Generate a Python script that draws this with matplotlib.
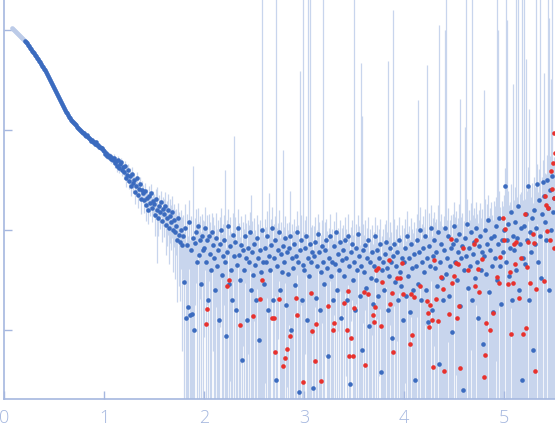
import numpy as np
import matplotlib.pyplot as plt
from matplotlib.ticker import NullLocator

# points excluded from the fit (drawn light)
q_excl = [0.08, 0.09, 0.10, 0.11, 0.12, 0.13, 0.14, 0.15, 0.16, 0.17, 0.18, 0.19, 0.20]
log_i_excl = [0.02, 0.01, 0.00, -0.01, -0.02, -0.03, -0.04, -0.05, -0.06, -0.07, -0.08, -0.09, -0.10]

# smooth low-q part
q_smooth = [0.21, 0.22, 0.23, 0.24, 0.25, 0.26, 0.27, 0.28, 0.29,
            0.30, 0.31, 0.32, 0.33, 0.34, 0.35, 0.36, 0.37, 0.38, 0.39,
            0.40, 0.41, 0.42, 0.43, 0.44, 0.45, 0.46, 0.47, 0.48, 0.49,
            0.50, 0.51, 0.52, 0.53, 0.54, 0.55, 0.56, 0.57, 0.58, 0.59,
            0.60, 0.61, 0.62, 0.63, 0.64, 0.65, 0.66, 0.67, 0.68, 0.69,
            0.70, 0.71, 0.72, 0.73, 0.74, 0.75, 0.76, 0.77, 0.78, 0.79,
            0.80, 0.81, 0.82, 0.83, 0.84, 0.85, 0.86, 0.87, 0.88, 0.89,
            0.90, 0.91, 0.92, 0.93, 0.94, 0.95, 0.96, 0.97, 0.98, 0.99]
log_i_smooth = [-0.11, -0.12, -0.13, -0.15, -0.16, -0.18, -0.19, -0.21, -0.22,
                -0.23, -0.25, -0.26, -0.28, -0.29, -0.31, -0.32, -0.34, -0.36, -0.37,
                -0.39, -0.40, -0.42, -0.44, -0.46, -0.48, -0.50, -0.52, -0.54, -0.56,
                -0.58, -0.60, -0.62, -0.64, -0.66, -0.68, -0.70, -0.72, -0.74, -0.76,
                -0.78, -0.80, -0.82, -0.83, -0.85, -0.87, -0.88, -0.90, -0.91, -0.92,
                -0.93, -0.94, -0.95, -0.97, -0.98, -0.99, -1.00, -1.01, -1.02, -1.03,
                -1.03, -1.05, -1.06, -1.05, -1.07, -1.08, -1.09, -1.11, -1.10, -1.12,
                -1.12, -1.14, -1.12, -1.15, -1.15, -1.17, -1.17, -1.18, -1.18, -1.20]
log_err_smooth = [-2.1, -2.1, -2.1, -2.1, -2.2, -2.2, -2.2, -2.2, -2.2,
                  -2.2, -2.3, -2.3, -2.3, -2.3, -2.3, -2.3, -2.4, -2.4, -2.4,
                  -2.4, -2.4, -2.4, -2.5, -2.5, -2.5, -2.5, -2.5, -2.5, -2.6,
                  -2.6, -2.6, -2.6, -2.6, -2.6, -2.6, -2.6, -2.6, -2.6, -2.6,
                  -2.7, -2.7, -2.7, -2.7, -2.7, -2.7, -2.7, -2.7, -2.7, -2.7,
                  -2.7, -2.7, -2.7, -2.7, -2.7, -2.7, -2.7, -2.7, -2.7, -2.7,
                  -2.6, -2.6, -2.6, -2.6, -2.6, -2.6, -2.6, -2.6, -2.6, -2.6,
                  -2.5, -2.5, -2.5, -2.5, -2.5, -2.5, -2.5, -2.5, -2.5, -2.5]

# noisy high-q part
q_noisy = [
    1.00, 1.01, 1.02, 1.03, 1.04, 1.05, 1.06, 1.07, 1.08, 1.09,
    1.10, 1.11, 1.12, 1.13, 1.14, 1.15, 1.16, 1.17, 1.18, 1.19,
    1.20, 1.21, 1.22, 1.23, 1.24, 1.25, 1.26, 1.27, 1.28, 1.29,
    1.30, 1.31, 1.32, 1.33, 1.34, 1.35, 1.36, 1.37, 1.38, 1.39,
    1.40, 1.41, 1.42, 1.43, 1.44, 1.45, 1.46, 1.47, 1.48, 1.49,
    1.50, 1.51, 1.52, 1.53, 1.54, 1.55, 1.56, 1.57, 1.58, 1.59,
    1.60, 1.61, 1.62, 1.63, 1.64, 1.65, 1.66, 1.67, 1.68, 1.69,
    1.70, 1.71, 1.72, 1.73, 1.74, 1.75, 1.76, 1.77, 1.78, 1.79,
    1.80, 1.81, 1.82, 1.83, 1.84, 1.85, 1.86, 1.87, 1.88, 1.89,
    1.90, 1.91, 1.92, 1.93, 1.94, 1.95, 1.96, 1.97, 1.98, 1.99,
    2.00, 2.01, 2.02, 2.03, 2.04, 2.05, 2.06, 2.07, 2.08, 2.09,
    2.10, 2.11, 2.12, 2.13, 2.14, 2.15, 2.16, 2.17, 2.18, 2.19,
    2.20, 2.21, 2.22, 2.23, 2.24, 2.25, 2.26, 2.27, 2.28, 2.29,
    2.30, 2.31, 2.32, 2.33, 2.34, 2.35, 2.36, 2.37, 2.38, 2.39,
    2.40, 2.41, 2.42, 2.43, 2.44, 2.45, 2.46, 2.47, 2.48, 2.49,
    2.50, 2.51, 2.52, 2.53, 2.54, 2.55, 2.56, 2.57, 2.58, 2.59,
    2.60, 2.61, 2.62, 2.63, 2.64, 2.65, 2.66, 2.67, 2.68, 2.69,
    2.70, 2.71, 2.72, 2.73, 2.74, 2.75, 2.76, 2.77, 2.78, 2.79,
    2.80, 2.81, 2.82, 2.83, 2.84, 2.85, 2.86, 2.87, 2.88, 2.89,
    2.90, 2.91, 2.92, 2.93, 2.94, 2.95, 2.96, 2.97, 2.98, 2.99,
    3.00, 3.01, 3.02, 3.03, 3.04, 3.05, 3.06, 3.07, 3.08, 3.09,
    3.10, 3.11, 3.12, 3.13, 3.14, 3.15, 3.16, 3.17, 3.18, 3.19,
    3.20, 3.21, 3.22, 3.23, 3.24, 3.25, 3.26, 3.27, 3.28, 3.29,
    3.30, 3.31, 3.32, 3.33, 3.34, 3.35, 3.36, 3.37, 3.38, 3.39,
    3.40, 3.41, 3.42, 3.43, 3.44, 3.45, 3.46, 3.47, 3.48, 3.49,
    3.50, 3.51, 3.52, 3.53, 3.54, 3.55, 3.56, 3.57, 3.58, 3.59,
    3.60, 3.61, 3.62, 3.63, 3.64, 3.65, 3.66, 3.67, 3.68, 3.69,
    3.70, 3.71, 3.72, 3.73, 3.74, 3.75, 3.76, 3.77, 3.78, 3.79,
    3.80, 3.81, 3.82, 3.83, 3.84, 3.85, 3.86, 3.87, 3.88, 3.89,
    3.90, 3.91, 3.92, 3.93, 3.94, 3.95, 3.96, 3.97, 3.98, 3.99,
    4.00, 4.01, 4.02, 4.03, 4.04, 4.05, 4.06, 4.07, 4.08, 4.09,
    4.10, 4.11, 4.12, 4.13, 4.14, 4.15, 4.16, 4.17, 4.18, 4.19,
    4.20, 4.21, 4.22, 4.23, 4.24, 4.25, 4.26, 4.27, 4.28, 4.29,
    4.30, 4.31, 4.32, 4.33, 4.34, 4.35, 4.36, 4.37, 4.38, 4.39,
    4.40, 4.41, 4.42, 4.43, 4.44, 4.45, 4.46, 4.47, 4.48, 4.49,
    4.50, 4.51, 4.52, 4.53, 4.54, 4.55, 4.56, 4.57, 4.58, 4.59,
    4.60, 4.61, 4.62, 4.63, 4.64, 4.65, 4.66, 4.67, 4.68, 4.69,
    4.70, 4.71, 4.72, 4.73, 4.74, 4.75, 4.76, 4.77, 4.78, 4.79,
    4.80, 4.81, 4.82, 4.83, 4.84, 4.85, 4.86, 4.87, 4.88, 4.89,
    4.90, 4.91, 4.92, 4.93, 4.94, 4.95, 4.96, 4.97, 4.98, 4.99,
    5.00, 5.01, 5.02, 5.03, 5.04, 5.05, 5.06, 5.07, 5.08, 5.09,
    5.10, 5.11, 5.12, 5.13, 5.14, 5.15, 5.16, 5.17, 5.18, 5.19,
    5.20, 5.21, 5.22, 5.23, 5.24, 5.25, 5.26, 5.27, 5.28, 5.29,
    5.30, 5.31, 5.32, 5.33, 5.34, 5.35, 5.36, 5.37, 5.38, 5.39,
    5.40, 5.41, 5.42, 5.43, 5.44, 5.45, 5.46, 5.47, 5.48, 5.49,
    5.50]
log_i_noisy = [
    -1.21, -1.24, -1.23, -1.26, -1.25, -1.27, -1.26, -1.29, -1.28, -1.30,
    -1.28, -1.33, -1.31, -1.36, -1.30, -1.38, -1.34, -1.32, -1.40, -1.37,
    -1.42, -1.36, -1.48, -1.45, -1.40, -1.51, -1.46, -1.56, -1.44, -1.53,
    -1.50, -1.62, -1.56, -1.48, -1.65, -1.59, -1.54, -1.69, -1.60, -1.63,
    -1.70, -1.61, -1.75, -1.68, -1.80, -1.66, -1.73, -1.63, -1.78, -1.71,
    -1.74, -1.85, -1.69, -1.80, -1.88, -1.76, -1.82, -1.72, -1.91, -1.79,
    -1.84, -1.76, -1.95, -1.88, -1.80, -1.98, -1.86, -1.92, -1.82, -2.00,
    -1.90, -2.02, -1.96, -2.10, -1.88, -2.05, -2.12, -2.00, -2.15, -2.06,
    -2.52, -1.98, -2.88, -2.15, -2.77, -1.92, -2.85, -2.20, -2.84, -2.08,
    -3.00, -2.13, -2.02, -2.32, -1.96, -2.25, -2.10, -2.54, -2.06, -2.20,
    -2.18, -1.98, -2.32, -2.10, -2.70, -2.06, -2.24, -2.40, -2.02, -2.15,
    -2.28, -2.60, -2.08, -2.36, -2.20, -2.90, -2.14, -2.00, -2.45, -2.26,
    -2.10, -2.32, -3.06, -2.22, -1.96, -2.54, -2.16, -2.40, -2.70, -2.05,
    -2.26, -2.12, -2.80, -2.35, -1.98, -2.25, -2.50, -2.15, -3.30, -2.20,
    -2.40, -2.06, -2.28, -2.90, -2.18, -2.32, -2.02, -2.60, -2.22, -2.45,
    -2.14, -2.35, -2.70, -2.08, -2.28, -3.10, -2.20, -2.42, -2.00, -2.32,
    -2.54, -2.18, -2.32, -2.06, -2.80, -2.26, -2.40, -2.15, -1.98, -2.70,
    -2.28, -2.10, -3.50, -2.36, -2.20, -2.02, -2.60, -2.24, -2.42, -2.16,
    -2.32, -2.08, -2.75, -2.22, -2.44, -2.18, -2.06, -3.00, -2.28, -2.38,
    -2.14, -2.55, -2.26, -2.02, -2.32, -3.62, -2.20, -2.10, -2.70, -2.35,
    -2.40, -2.18, -2.06, -2.90, -2.28, -2.46, -2.14, -2.32, -2.22, -3.58,
    -2.26, -2.12, -2.68, -2.36, -2.04, -2.22, -2.80, -2.42, -2.16, -2.32,
    -2.54, -2.20, -2.10, -2.38, -3.26, -2.28, -2.06, -2.46, -2.32, -2.70,
    -2.16, -2.34, -2.02, -2.60, -2.24, -2.40, -2.12, -2.88, -2.30, -2.20,
    -2.46, -2.10, -2.28, -2.70, -2.06, -2.36, -3.54, -2.22, -2.14, -2.50,
    -2.32, -2.80, -2.18, -2.40, -2.04, -2.26, -2.66, -2.36, -3.20, -2.20,
    -2.42, -2.15, -2.58, -2.28, -2.10, -2.96, -2.32, -2.48, -2.22, -2.74,
    -2.36, -2.06, -2.50, -2.20, -2.66, -2.28, -2.14, -3.42, -2.40, -2.32,
    -2.60, -2.24, -2.12, -2.38, -2.80, -2.46, -2.18, -2.32, -3.08, -2.26,
    -2.14, -2.52, -2.36, -2.22, -2.70, -2.10, -2.42, -2.56, -2.28, -2.90,
    -2.32, -2.18, -2.66, -2.06, -2.46, -2.28, -2.82, -2.14, -2.38, -2.60,
    -2.24, -3.50, -2.36, -2.10, -2.54, -2.22, -2.00, -2.70, -2.32, -2.18,
    -2.42, -2.06, -2.60, -2.28, -2.92, -2.16, -2.36, -1.98, -2.80, -2.26,
    -2.10, -2.38, -2.22, -2.56, -2.02, -3.34, -2.32, -2.14, -2.48, -2.70,
    -2.20, -1.98, -2.44, -2.28, -2.06, -2.66, -2.36, -2.18, -3.02, -2.14,
    -1.96, -2.32, -2.10, -2.50, -2.22, -2.04, -2.76, -2.28, -2.16, -3.60,
    -2.40, -2.08, -2.26, -1.94, -2.58, -2.18, -2.36, -2.02, -2.70, -2.24,
    -2.12, -2.48, -1.98, -2.32, -2.88, -2.16, -2.06, -2.40, -2.22, -3.14,
    -2.26, -2.00, -2.44, -2.14, -1.90, -2.62, -2.20, -2.08, -2.36, -2.82,
    -2.06, -2.28, -1.96, -2.50, -2.14, -1.88, -2.36, -2.74, -2.10, -2.22,
    -2.00, -1.56, -2.32, -2.10, -1.94, -2.46, -2.18, -1.82, -2.70, -2.06,
    -2.20, -1.92, -2.40, -2.08, -1.76, -2.60, -2.14, -1.98, -3.50, -2.28,
    -1.96, -2.34, -1.84, -2.10, -1.56, -2.70, -2.02, -2.22, -1.88, -3.20,
    -1.80, -2.14, -1.98, -1.54, -2.32, -1.70, -2.06, -2.48, -1.84, -1.52,
    -1.66, -1.92, -2.10, -1.50, -1.78, -2.60, -1.60, -2.00, -1.46, -1.82,
    -1.68]
log_err_noisy = [
    -2.42, -2.38, -2.45, -2.40, -2.36, -2.44, -2.40, -2.37, -2.43, -2.39,
    -2.32, -2.28, -2.35, -2.26, -2.30, -2.33, -2.27, -2.31, -2.29, -2.34,
    -2.24, -2.28, -2.20, -2.26, -2.22, -2.27, -2.18, -2.25, -2.23, -2.21,
    -2.30, -2.25, -2.28, -2.32, -2.24, -2.27, -2.29, -2.22, -2.26, -2.31,
    -2.28, -2.33, -2.26, -2.30, -2.35, -2.27, -2.31, -2.25, -2.34, -2.29,
    -2.32, -2.27, -2.30, -1.95, -2.34, -2.28, -2.31, -2.26, -2.33, -2.29,
    -2.22, -2.18, -2.25, -2.20, -2.16, -2.23, -2.19, -2.24, -2.17, -2.21,
    -2.24, -2.20, -2.27, -2.22, -2.26, -2.21, -2.25, -2.23, -2.19, -2.26,
    -2.18, -2.12, -2.20, -2.14, -2.16, -2.10, -2.19, -2.13, -2.17, -1.45,
    -2.20, -2.25, -2.18, -2.22, -2.26, -2.19, -2.23, -2.17, -2.24, -2.21,
    -2.24, -2.19, -2.26, -2.21, -2.18, -2.25, -2.20, -2.23, -2.27, -2.19,
    -2.22, -2.26, -2.18, -2.24, -2.20, -2.28, -2.21, -2.17, -2.25, -2.23,
    -2.21, -1.45, -2.24, -2.19, -2.27, -2.22, -2.18, -2.25, -2.20, -2.23,
    -1.09, -2.22, -2.26, -2.19, -2.24, -2.21, -2.27, -2.18, -2.23, -2.25,
    -2.20, -2.24, -2.18, -2.26, -2.22, -2.19, -2.25, -1.70, -2.21, -2.23,
    -2.22, -2.26, -2.19, -2.24, -2.20, -2.27, -2.21, -2.18, 0.50, -2.23,
    -2.25, -2.20, -2.23, -2.18, -2.26, -1.75, -2.22, -2.24, -2.19, -2.21,
    -2.20, -2.24, 0.50, -2.22, -2.26, -2.19, -2.23, -2.21, -2.25, -1.25,
    -2.22, -2.27, -2.19, -2.24, -2.20, -2.26, -1.80, -2.23, -2.21, -2.25,
    -2.24, -2.20, -2.26, -2.22, -2.19, -2.25, -0.42, -2.21, -2.23, 0.50,
    -2.26, -2.22, -2.28, -2.24, 0.50, -2.27, 0.50, -2.23, -2.29, -2.25,
    -2.27, -2.23, -2.30, -2.25, -2.28, -2.22, -2.26, -2.29, -2.24, 0.50,
    -2.28, -2.24, -2.30, -2.26, -2.22, -2.29, -2.25, -2.31, -2.27, -2.23,
    -2.26, -2.30, -2.24, -2.28, -2.32, -2.25, -2.29, -2.23, -2.27, -2.31,
    -2.29, -2.25, -2.31, -2.27, -2.23, -2.30, -2.26, -2.32, -2.28, -2.24,
    0.50, -2.28, -2.32, -2.26, -2.30, -2.27, -2.31, -0.33, -0.86, -2.29,
    -2.30, -2.26, -2.32, -2.28, -2.25, -2.31, -2.27, -2.33, -2.29, -2.26,
    -2.28, -2.32, -2.26, -2.30, -2.27, -2.31, -2.25, -2.29, -2.33, -2.27,
    -2.29, -2.25, -2.31, -2.27, -0.31, -2.30, -2.26, -2.32, -2.28, 0.20,
    -2.26, -2.30, -2.24, -2.28, -2.31, -2.25, -2.29, -2.27, -2.23, -2.30,
    -2.24, -2.20, -2.26, -2.18, -2.22, -2.25, -2.19, -2.23, -2.21, -2.17,
    -2.20, -2.16, -2.22, -2.18, -0.71, -2.19, -2.15, -2.21, -2.17, -2.14,
    -2.16, -2.12, -2.18, -0.36, -2.14, -2.10, -2.17, -2.13, -2.15, -2.11,
    -2.14, -2.10, -2.16, -2.12, -2.08, 0.05, -2.13, -2.15, -2.11, -2.09,
    -2.12, 0.00, 0.50, -2.14, -2.10, -2.16, -2.08, -2.13, -2.11, -2.15,
    -2.10, -2.06, -2.12, -2.08, -2.14, -2.05, -0.69, -2.09, -2.11, -2.07,
    -2.08, -1.00, 0.50, -2.06, -2.10, -2.04, -2.09, -2.05, 0.50, -2.07,
    -2.04, -2.00, -2.06, -2.02, -1.98, -2.05, -2.01, -2.03, -1.99, -2.04,
    -0.61, -1.98, -2.02, -1.96, -2.00, -1.94, -1.99, -1.97, -2.01, -1.95,
    -1.96, -1.92, -1.98, 0.50, 0.00, -1.94, -1.90, -1.97, -1.93, -1.95,
    -1.90, -1.86, 0.50, 0.10, -1.88, -1.84, -1.91, -1.87, -1.85, -0.55,
    -1.86, -1.82, 0.50, -1.88, 0.50, -1.84, -1.80, -1.87, 0.50, -1.83,
    0.50, -1.80, -0.30, -1.78, -1.82, -0.80, -1.76, -1.81, -1.79, -1.75,
    -1.74, -1.70, 0.50, -1.76, -1.72, -1.68, 0.50, -1.73, -1.71, -1.69,
    -0.46, -1.60, -1.55, -1.62, 0.50, 0.12, -1.52, -0.50, 0.50, -1.50,
    -1.48]

# points drawn in red
q_red = [2.02, 2.03, 2.23, 2.25, 2.36, 2.49, 2.56, 2.58, 2.68, 2.70,
         2.71, 2.75, 2.79, 2.81, 2.83, 2.86, 2.92, 2.93, 2.99, 3.07,
         3.08, 3.11, 3.12, 3.17, 3.24, 3.29, 3.30, 3.40, 3.43, 3.44,
         3.45, 3.47, 3.49, 3.50, 3.60, 3.61, 3.64, 3.69, 3.70, 3.71,
         3.72, 3.74, 3.77, 3.78, 3.85, 3.86, 3.88, 3.89, 3.93, 3.96,
         3.98, 3.99, 4.06, 4.07, 4.08, 4.10, 4.16, 4.23, 4.24, 4.25,
         4.26, 4.28, 4.29, 4.30, 4.32, 4.34, 4.37, 4.39, 4.40, 4.45,
         4.47, 4.48, 4.50, 4.52, 4.53, 4.54, 4.55, 4.56, 4.59, 4.64,
         4.70, 4.71, 4.72, 4.74, 4.75, 4.78, 4.80, 4.81, 4.82, 4.86,
         4.89, 4.93, 4.95, 4.96, 4.99, 5.00, 5.01, 5.04, 5.06, 5.07,
         5.09, 5.10, 5.11, 5.12, 5.15, 5.17, 5.19, 5.21, 5.22, 5.23,
         5.24, 5.26, 5.29, 5.30, 5.31, 5.32, 5.40, 5.41, 5.42, 5.43,
         5.44, 5.46, 5.47, 5.48, 5.49, 5.50, 5.50, 5.50, 5.51]
log_i_red = [-2.94, -2.79, -2.56, -2.50, -2.95, -2.86, -2.69, -2.50, -2.88, -2.88,
             -3.22, -2.69, -3.36, -3.28, -3.19, -3.06, -2.68, -2.85, -3.52, -2.63,
             -3.01, -3.31, -2.94, -3.51, -2.76, -3.00, -2.93, -2.73, -3.00, -2.61,
             -3.26, -3.08, -3.26, -2.78, -2.62, -3.35, -2.64, -2.85, -2.92, -2.77,
             -2.40, -2.38, -2.96, -2.52, -2.30, -2.74, -2.63, -3.22, -2.48, -2.48,
             -2.33, -2.64, -3.14, -2.64, -3.05, -2.67, -2.56, -2.71, -2.83, -2.97,
             -2.75, -2.90, -3.37, -2.30, -2.69, -2.91, -2.47, -2.59, -3.41, -2.84,
             -2.09, -2.53, -2.46, -2.33, -2.88, -2.34, -2.76, -3.38, -2.18, -2.40,
             -2.14, -2.56, -2.10, -2.39, -2.62, -2.29, -3.47, -3.25, -2.93, -3.00,
             -2.83, -2.47, -2.53, -2.27, -1.88, -2.10, -1.99, -2.54, -2.42, -3.04,
             -2.53, -2.14, -2.34, -2.12, -2.68, -2.28, -3.04, -1.84, -2.98, -2.37,
             -2.12, -2.53, -2.04, -2.13, -3.41, -2.59, -2.51, -1.66, -1.75, -2.01,
             -1.78, -2.10, -1.41, -1.59, -1.33, -2.18, -1.68, -1.03, -1.23]

blue = '#3b6bbf'
red = '#e8312d'
pale = '#bccbe8'
bar_col = '#c8d5ed'
axis_col = '#a5b7df'

I_excl = 10 ** np.array(log_i_excl)
q_all = np.array(q_smooth + q_noisy)
I_all = 10 ** np.array(log_i_smooth + log_i_noisy)
err_all = 10 ** np.array(log_err_smooth + log_err_noisy)
I_red = 10 ** np.array(log_i_red)

lo = I_all - err_all
lo = np.where(lo > 0, lo, 1e-8)
hi = I_all + err_all

fig = plt.figure(figsize=(5.55, 4.37), dpi=100)
ax = fig.add_axes([4 / 555, 38 / 437, 1 - 4 / 555, 399 / 437])

ax.vlines(q_all, lo, hi, colors=bar_col, linewidth=0.9, zorder=1)
ax.scatter(q_excl, I_excl, s=11, color=pale, linewidths=0, zorder=2)
ax.scatter(q_all, I_all, s=11, color=blue, linewidths=0, zorder=3)
ax.scatter(q_red, I_red, s=11, color=red, linewidths=0, zorder=4)

ax.set_yscale('log')
ax.set_xlim(0, 5.51)
ax.set_ylim(10 ** -3.69, 10 ** 0.30)

ax.set_xticks([0, 1, 2, 3, 4, 5])
ax.set_yticks([1e-3, 1e-2, 1e-1, 1])
ax.set_yticklabels([])
ax.yaxis.set_minor_locator(NullLocator())

for side in ['top', 'right']:
    ax.spines[side].set_visible(False)
for side in ['left', 'bottom']:
    ax.spines[side].set_color(axis_col)
    ax.spines[side].set_linewidth(1.2)

ax.tick_params(axis='both', direction='in', length=6, width=1, color=axis_col)
ax.tick_params(axis='x', labelcolor=axis_col, labelsize=13, pad=7)
for lab in ax.get_xticklabels():
    lab.set_fontfamily('Open Sans')
    lab.set_fontweight('light')

fig.savefig('out.png', dpi=100)
